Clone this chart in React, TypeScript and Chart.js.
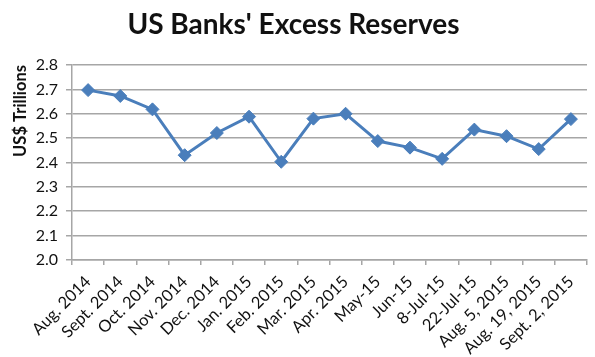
import React, { useEffect, useRef } from "react";
import { Chart, registerables } from "chart.js";

Chart.register(...registerables);

const categories = [
  "Aug. 2014", "Sept. 2014", "Oct. 2014", "Nov. 2014", "Dec. 2014", "Jan. 2015",
  "Feb. 2015", "Mar. 2015", "Apr. 2015", "May-15", "Jun-15", "8-Jul-15",
  "22-Jul-15", "Aug. 5, 2015", "Aug. 19, 2015", "Sept. 2, 2015",
];
const reserves = [
  2.697, 2.673, 2.618, 2.43, 2.521, 2.588, 2.403, 2.58, 2.6, 2.488, 2.461, 2.415,
  2.535, 2.508, 2.455, 2.578,
];
const yTicks = [2.0, 2.1, 2.2, 2.3, 2.4, 2.5, 2.6, 2.7, 2.8];
const titleText = "US Banks' Excess Reserves";
const yTitleText = "US$ Trillions";

const FONT = "Lato, 'Open Sans', sans-serif";
const BLUE = "#4a7ebb";
const GRID = "#a6a6a6";

export default function App() {
  const ref = useRef<HTMLCanvasElement | null>(null);
  useEffect(() => {
    if (!ref.current) return;
    const chart = new Chart(ref.current, {
      type: "line",
      data: {
        labels: categories,
        datasets: [
          {
            data: reserves,
            borderColor: BLUE,
            backgroundColor: BLUE,
            borderWidth: 3,
            pointStyle: "rectRot",
            pointRadius: 6.5,
            pointBorderWidth: 1,
            pointBackgroundColor: BLUE,
            pointBorderColor: BLUE,
            tension: 0,
          },
        ],
      },
      options: {
        animation: false,
        responsive: true,
        maintainAspectRatio: false,
        layout: { padding: { left: 0, right: 8, top: 0, bottom: 0 } },
        plugins: {
          legend: { display: false },
          tooltip: { enabled: false },
          title: {
            display: true,
            text: titleText,
            color: "#111",
            font: { family: FONT, size: 28, weight: "bold", lineHeight: 1.2 },
            padding: { top: 8, bottom: 23.4 },
          },
        },
        scales: {
          x: {
            offset: true,
            grid: {
              offset: true,
              display: true,
              drawOnChartArea: false,
              drawTicks: true,
              tickLength: 5,
              color: GRID,
              lineWidth: 1.5,
            },
            border: { display: true, color: GRID, width: 1.5 },
            ticks: {
              minRotation: 45,
              maxRotation: 45,
              autoSkip: false,
              color: "#111",
              font: { family: FONT, size: 16.5 },
              padding: 7,
            },
            afterFit: (s: any) => {
              s.height = 97;
            },
          },
          y: {
            min: 2.0,
            max: 2.8,
            afterBuildTicks: (s: any) => {
              s.ticks = yTicks.map((v) => ({ value: v }));
            },
            grid: {
              color: GRID,
              lineWidth: 1.5,
              drawTicks: true,
              tickLength: 6,
            },
            border: { display: true, color: GRID, width: 1.5 },
            ticks: {
              color: "#111",
              font: { family: FONT, size: 16 },
              padding: 8,
              callback: (v: any) => Number(v).toFixed(1),
            },
            title: {
              display: true,
              text: yTitleText,
              align: "end",
              color: "#111",
              font: { family: FONT, size: 16.5, weight: "bold", lineHeight: 1.2 },
              padding: { top: 11, bottom: 0 },
            },
            afterFit: (s: any) => {
              s.width = 72;
            },
          },
        },
      },
    });
    return () => chart.destroy();
  }, []);
  return (
    <div style={{ position: "absolute", left: 0, top: 0, width: 595, height: 357, background: "#fff" }}>
      <canvas ref={ref} />
    </div>
  );
}
